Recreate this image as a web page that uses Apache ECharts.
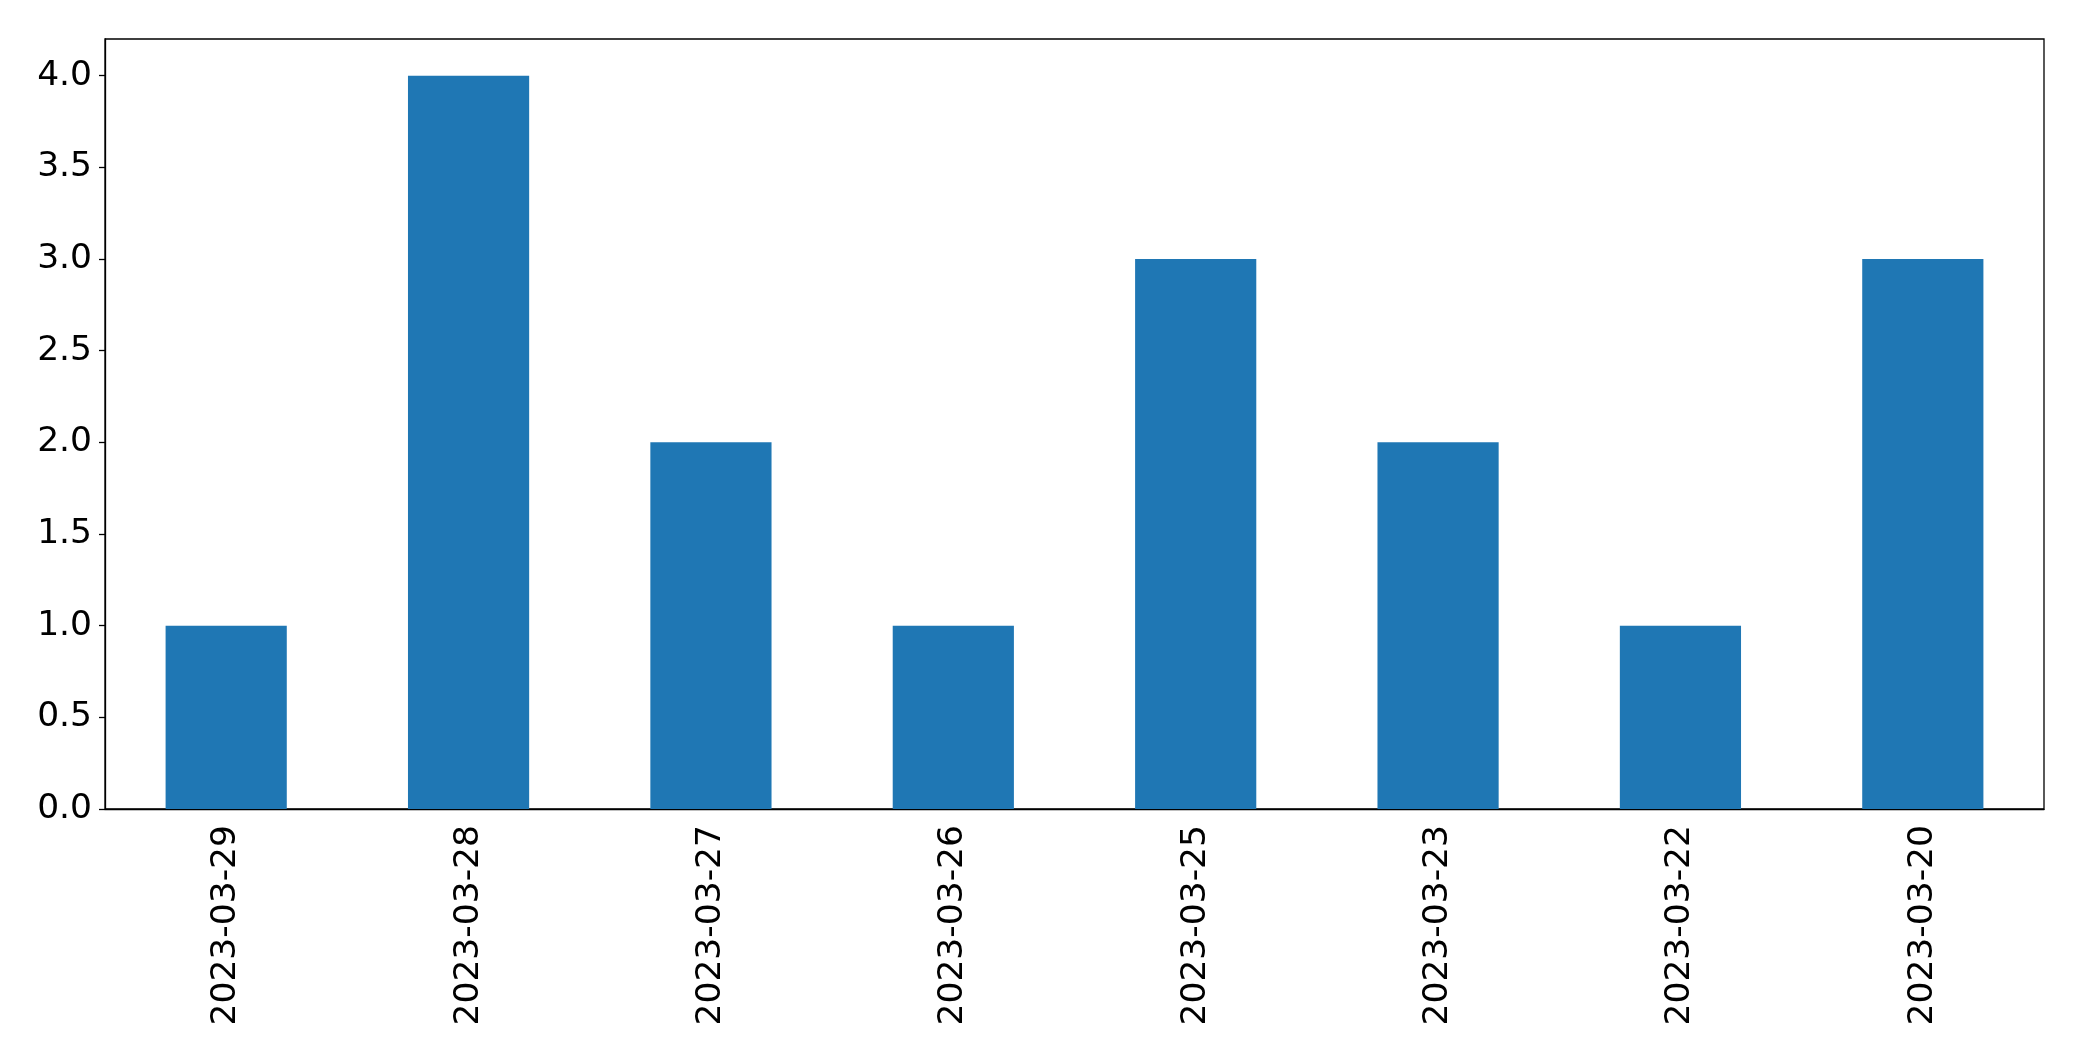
<!DOCTYPE html>
<html>
<head>
<meta charset="utf-8">
<script src="https://cdn.jsdelivr.net/npm/echarts@6/dist/echarts.min.js"></script>
<style>html,body{margin:0;padding:0;background:#fff}#c{width:2082px;height:1061px}</style>
</head>
<body>
<div id="c"></div>
<script>
const categories = ['2023-03-29','2023-03-28','2023-03-27','2023-03-26','2023-03-25','2023-03-23','2023-03-22','2023-03-20'];
const values = [1,4,2,1,3,2,1,3];
const yTicks = [0,0.5,1,1.5,2,2.5,3,3.5,4];

const chart = echarts.init(document.getElementById('c'), null, {renderer:'canvas'});
chart.setOption({
  animation:false,
  backgroundColor:'#fff',
  grid:{left:105,right:38,top:39,bottom:252,show:true,borderColor:'#000',borderWidth:1.3,backgroundColor:'transparent'},
  xAxis:{
    type:'category',data:categories,
    axisLine:{lineStyle:{color:'#000',width:1.3}},
    axisTick:{alignWithLabel:true,length:6,lineStyle:{color:'#000',width:1.3}},
    axisLabel:{rotate:90,fontSize:34.5,color:'#000',fontFamily:'DejaVu Sans',margin:16,interval:0}
  },
  yAxis:{
    type:'value',min:0,max:4.2,
    axisLine:{show:true,lineStyle:{color:'#000',width:1.3}},
    axisTick:{show:true,length:6,lineStyle:{color:'#000',width:1.3},customValues:yTicks},
    axisLabel:{fontSize:34.5,color:'#000',fontFamily:'DejaVu Sans',margin:13,customValues:yTicks,formatter:v=>v.toFixed(1)},
    splitLine:{show:false}
  },
  series:[{type:'bar',data:values,barWidth:'50%',itemStyle:{color:'#1f77b4'}}]
});
</script>
</body>
</html>
